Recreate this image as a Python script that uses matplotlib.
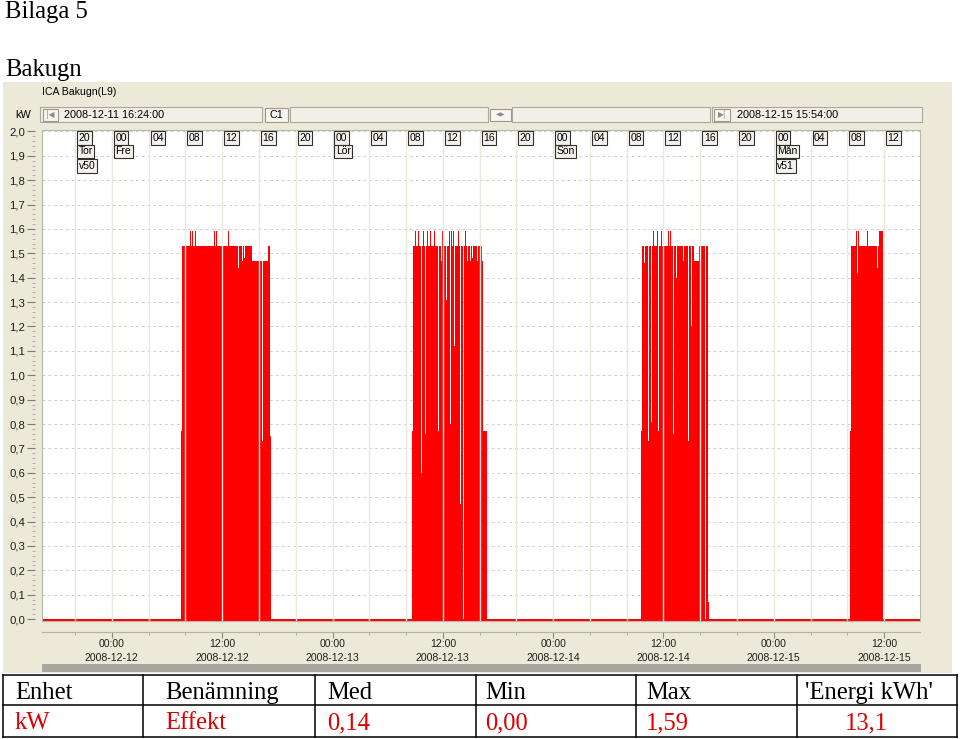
import matplotlib
matplotlib.use('Agg')
import matplotlib.pyplot as plt
import matplotlib.transforms as mtransforms
from matplotlib.patches import Rectangle
from matplotlib.lines import Line2D
from matplotlib.ticker import MultipleLocator, FixedLocator, FuncFormatter

W, H = 960, 739

# tid i timmar räknat från 2008-12-12 00:00
t_start, t_end = -7.6, 87.9

# effekt (kW) som trappsteg: värdet gäller från tidpunkten till nästa
block1_t = [7.50, 7.61, 7.97, 8.08, 8.45, 8.56, 8.70, 8.81, 9.02, 9.13, 11.09, 11.20, 11.34, 11.45,
            12.58, 12.69, 13.45, 13.53, 13.70, 13.78, 14.13, 14.21, 14.42, 14.50, 15.25, 16.38,
            16.47, 17.03, 17.17, 17.28]
block1_kw = [0.77, 1.53, 1.59, 1.53, 1.59, 1.53, 1.59, 1.53, 1.59, 1.53, 1.59, 1.53, 1.59, 1.53,
             1.59, 1.53, 1.48, 1.53, 1.44, 1.53, 1.47, 1.53, 1.48, 1.53, 1.47, 0.73,
             1.47, 1.53, 0.75, 0.00]

block2_t = [32.61, 32.75, 32.93, 33.04, 33.26, 33.37, 33.66, 33.76, 33.84, 33.95,
            34.05, 34.15, 34.24, 34.35, 34.60, 34.71, 35.03, 35.14, 35.51, 35.61,
            35.76, 35.87, 35.98, 36.09, 36.38, 36.48, 36.66, 36.74, 36.84, 36.95,
            37.14, 37.21, 37.31, 37.64, 37.75, 37.83, 37.93, 38.18, 38.28, 38.37,
            38.48, 38.66, 38.76, 38.91, 39.01, 39.21, 39.31, 39.75, 39.85, 40.29,
            40.40, 40.76]
block2_kw = [0.77, 1.53, 1.59, 1.53, 1.59, 1.53, 0.60, 1.53, 1.59, 1.53,
             0.76, 1.53, 1.59, 1.53, 1.59, 1.53, 1.59, 1.53, 0.77, 1.53,
             1.47, 1.59, 1.47, 1.53, 1.31, 1.53, 1.59, 0.80, 1.59, 1.53,
             1.59, 1.12, 1.53, 1.59, 1.53, 0.47, 1.53, 0.00, 1.53, 1.59,
             1.53, 1.47, 1.53, 1.47, 1.53, 1.48, 1.53, 1.47, 1.53, 1.47,
             0.77, 0.00]

block3_t = [57.50, 57.68, 57.83, 58.04, 58.29, 58.39, 58.66, 58.76, 58.84, 58.95,
            59.32, 59.42, 59.52, 59.75, 59.86, 60.51, 60.62, 60.76, 60.87, 61.05,
            61.15, 61.41, 61.51, 62.10, 62.20, 62.68, 62.78, 63.01, 63.11, 63.29,
            63.91, 64.50, 64.60, 64.86, 65.00]
block3_kw = [0.77, 1.53, 1.46, 1.53, 0.73, 1.53, 0.81, 1.53, 1.59, 1.53,
             1.59, 0.77, 1.53, 1.59, 1.53, 1.59, 1.53, 1.59, 1.53, 0.76,
             1.53, 1.40, 1.53, 1.47, 1.53, 0.73, 1.53, 1.20, 1.53, 1.47,
             1.53, 0.00, 1.53, 0.07, 0.00]

block4_t = [80.27, 80.40, 80.90, 81.00, 81.09, 81.17, 81.27, 82.17, 82.27, 83.21, 83.30, 83.42, 83.84]
block4_kw = [0.77, 1.53, 1.59, 1.53, 1.42, 1.59, 1.53, 1.59, 1.53, 1.44, 1.53, 1.59, 0.00]

grid_hours = [-4, 0, 4, 8, 12, 16, 20, 24, 28, 32, 36, 40, 44, 48, 52, 56, 60, 64, 68, 72, 76, 80, 84]
hour_labels = ['20', '00', '04', '08', '12', '16', '20', '00', '04', '08', '12', '16',
               '20', '00', '04', '08', '12', '16', '20', '00', '04', '08', '12']
day_hours = [-4, 0, 24, 48, 72]
day_labels = ['Tor', 'Fre', 'Lör', 'Sön', 'Mån']
week_hours = [-4, 72]
week_labels = ['v50', 'v51']
date_hours = [0, 12, 24, 36, 48, 60, 72, 84]
date_labels = ['00:00\n2008-12-12', '12:00\n2008-12-12', '00:00\n2008-12-13', '12:00\n2008-12-13',
               '00:00\n2008-12-14', '12:00\n2008-12-14', '00:00\n2008-12-15', '12:00\n2008-12-15']

table_head = ['Enhet', 'Benämning', 'Med', 'Min', 'Max', "'Energi kWh'"]
table_vals = ['kW', 'Effekt', '0,14', '0,00', '1,59', '13,1']

SERIF = 'Liberation Serif'
UI = 'Liberation Sans'
PANEL = '#ece9d8'

fig = plt.figure(figsize=(W / 100, H / 100), dpi=100, facecolor='white')


def fx(x):
    return x / W


def fy(y):
    return 1 - y / H


def box(x0, y0, x1, y1, **kw):
    fig.add_artist(Rectangle((fx(x0), fy(y1)), (x1 - x0) / W, (y1 - y0) / H,
                             transform=fig.transFigure, **kw))


def line(xs, ys, **kw):
    fig.add_artist(Line2D([fx(x) for x in xs], [fy(y) for y in ys],
                          transform=fig.transFigure, **kw))


# rubriker i dokumentet
fig.text(fx(5), fy(18), 'Bilaga 5', family=SERIF, fontsize=17.7, va='baseline')
fig.text(fx(5), fy(76), 'Bakugn', family=SERIF, fontsize=17.7, va='baseline')

# programfönstret
box(3, 82, 952, 673, fc=PANEL, ec='none', zorder=-2)
fig.text(fx(42), fy(92), 'ICA Bakugn(L9)', family=UI, fontsize=7.6, va='center')
fig.text(fx(15), fy(115), 'kW', family=UI, fontsize=7.8, va='center')

field = dict(fc='#f1efe7', ec='#aaa89b', lw=0.8, zorder=-1)
button = dict(fc='#f6f5f0', ec='#9a988d', lw=0.8, zorder=-1)
box(40, 107, 262, 122, **field)
box(43, 108.5, 58, 120.5, **button)
fig.text(fx(50.5), fy(114.5), '|◀', fontsize=5.5, color='#8a8a8a', ha='center', va='center')
fig.text(fx(64), fy(114.5), '2008-12-11 16:24:00', family=UI, fontsize=7.8, va='center')
box(265, 108, 288, 122, **button)
fig.text(fx(276.5), fy(115), 'C1', family=UI, fontsize=7.8, ha='center', va='center')
box(290, 107, 488, 122, **field)
box(490, 108.5, 511, 120.5, **button)
fig.text(fx(500.5), fy(114.5), '◀▶', fontsize=4.5, color='#8a8a8a', ha='center', va='center')
box(512, 107, 710, 122, **field)
box(712, 107, 922, 122, **field)
box(714, 108.5, 730, 120.5, **button)
fig.text(fx(722), fy(114.5), '▶|', fontsize=5.5, color='#8a8a8a', ha='center', va='center')
fig.text(fx(737), fy(114.5), '2008-12-15 15:54:00', family=UI, fontsize=7.8, va='center')

# diagrammet
ax = fig.add_axes([fx(42), fy(620.5), 878 / W, 490.5 / H])
ax.set_facecolor('white')
ax.set_xlim(t_start, t_end)
ax.set_ylim(-0.006, 2.006)

t = [t_start] + block1_t + block2_t + block3_t + block4_t + [t_end]
kw = [0.0] + block1_kw + block2_kw + block3_kw + block4_kw + [0.0]
ax.fill_between(t, kw, -0.02, step='post', color='#ff0000', lw=0, zorder=2)

ax.set_axisbelow(True)
ax.yaxis.grid(True, which='major', color='#cfcfcf', lw=0.7, ls=(0, (3, 3)))
for h in grid_hours:
    ax.axvline(h, color='#ebe8dd', lw=1, zorder=3)

for s in ['top', 'right']:
    ax.spines[s].set_visible(False)
ax.spines['left'].set_position(('outward', 5))
ax.spines['left'].set_visible(False)
ax.spines['bottom'].set_position(('outward', 8))
ax.spines['bottom'].set_color('#b4b2a6')
ax.spines['bottom'].set_linewidth(0.8)
ax.add_patch(Rectangle((0, 0), 1, 1, transform=ax.transAxes, fill=False,
                       ec='#b9b6aa', lw=0.8, zorder=6, clip_on=False))

ax.yaxis.set_major_locator(MultipleLocator(0.1))
ax.yaxis.set_minor_locator(MultipleLocator(0.02))
ax.yaxis.set_major_formatter(FuncFormatter(lambda v, p: f'{abs(v):.1f}'.replace('.', ',')))
ax.tick_params(axis='y', which='major', length=6, width=0.8, color='#7a7a7a',
               labelsize=8.2, pad=1, labelcolor='#1e1e1e')
ax.tick_params(axis='y', which='minor', length=2.5, width=0.6, color='#a6a6a6')
for lab in ax.get_yticklabels():
    lab.set_family(UI)

ax.set_xticks(date_hours, date_labels)
ax.xaxis.set_minor_locator(FixedLocator(grid_hours))
ax.tick_params(axis='x', which='major', length=4, width=0.8, color='#8a8a8a',
               labelsize=7.6, pad=1.5, labelcolor='#1e1e1e')
ax.tick_params(axis='x', which='minor', length=2, width=0.6, color='#a6a6a6')
for lab in ax.get_xticklabels():
    lab.set_family(UI)
    lab.set_linespacing(1.45)

# tidsetiketter överst i diagrammet
tag = mtransforms.offset_copy(ax.get_xaxis_transform(), fig=fig, x=3.5, y=0, units='dots')
tag_box = dict(boxstyle='square,pad=0.15', fc='#f3f2ec', ec='#303030', lw=0.8)
for h, lab in zip(grid_hours, hour_labels):
    ax.text(h, 1 - 8 / 490.5, lab, transform=tag, ha='left', va='center', family=UI,
            fontsize=7.5, bbox=tag_box, zorder=7)
for h, lab in zip(day_hours, day_labels):
    ax.text(h, 1 - 21.5 / 490.5, lab, transform=tag, ha='left', va='center', family=UI,
            fontsize=7.5, bbox=tag_box, zorder=7)
for h, lab in zip(week_hours, week_labels):
    ax.text(h, 1 - 36 / 490.5, lab, transform=tag, ha='left', va='center', family=UI,
            fontsize=7.5, bbox=tag_box, zorder=7)

# rullningslist
box(42, 664, 921, 672, fc='#a8a69e', ec='none', zorder=1)

# tabell
col_x = [3, 143, 315, 476, 636, 797, 957]
row_y = [675, 705, 737]
for y in row_y:
    line([col_x[0], col_x[-1]], [y, y], color='black', lw=1.1)
for x in col_x:
    line([x, x], [row_y[0], row_y[-1]], color='black', lw=1.1)
text_x = [15, 165, 327, 485, 646, 805]
for x, s in zip(text_x, table_head):
    fig.text(fx(x), fy(699), s, family=SERIF, fontsize=17.7, va='baseline')
for i, s in enumerate(table_vals):
    if i == len(table_vals) - 1:
        fig.text(fx((col_x[i] + col_x[i + 1]) / 2 - 11), fy(729), s, family=SERIF, fontsize=17.7,
                 va='baseline', ha='center', color='#dd0000')
    else:
        fig.text(fx(text_x[i]), fy(729), s, family=SERIF, fontsize=17.7, va='baseline',
                 color='#dd0000')

fig.savefig('out.png', dpi=100)
